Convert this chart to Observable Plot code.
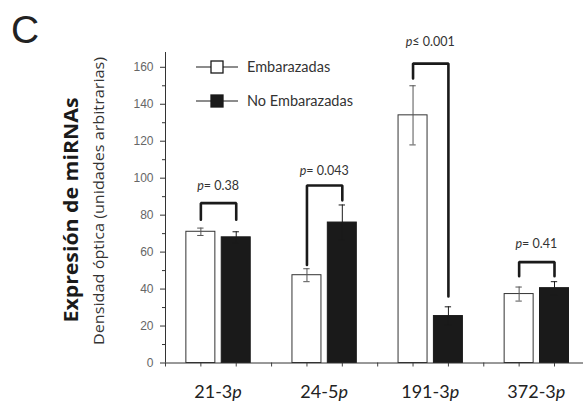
<!DOCTYPE html>
<html><head><meta charset="utf-8">
<script src="https://cdn.jsdelivr.net/npm/d3@7"></script>
<script src="https://cdn.jsdelivr.net/npm/@observablehq/plot@0.6"></script>
<style>body{margin:0;background:#fff} svg{display:block}</style>
</head><body><div id="chart"></div>
<script>
// ---- data ----
const categories = ["21-3", "24-5", "191-3", "372-3"];
const seriesNames = ["Embarazadas", "No Embarazadas"];
const embarazadas = [71, 47.5, 134, 37.3];
const embarazadasErr = [2, 3.5, 16, 3.8];
const noEmbarazadas = [68, 76, 25.4, 40.5];
const noEmbarazadasErr = [3, 9.5, 5, 3.5];
const pOps = ["=", "=", "≤", "="];
const pValues = ["0.38", "0.043", "0.001", "0.41"];
const pLabelY = [93.5, 101.5, 171.5, 62];
const bracketTop = [86.5, 96, 162, 54.6];
const bracketLeftEnd = [77.5, 53, 154, 47];
const bracketRightEnd = [77.5, 88, 36, 47];
const yTicks = [0, 20, 40, 60, 80, 100, 120, 140, 160];
const yMinorTicks = [10, 30, 50, 70, 90, 110, 130, 150];
const xTicks = [0, 1, 2, 3, 4, 5, 6, 7, 8, 9, 10, 11];

// ---- build rows ----
const half = 0.41, cap = 0.09;
const rows = categories.flatMap((c, i) => [
  {cat: c, s: 0, center: 3 * i + 1, value: embarazadas[i], err: embarazadasErr[i]},
  {cat: c, s: 1, center: 3 * i + 2, value: noEmbarazadas[i], err: noEmbarazadasErr[i]}
]);
const brackets = categories.flatMap((c, i) => [
  {cat: c, x: 3 * i + 1, y: bracketLeftEnd[i]},
  {cat: c, x: 3 * i + 1, y: bracketTop[i]},
  {cat: c, x: 3 * i + 2, y: bracketTop[i]},
  {cat: c, x: 3 * i + 2, y: bracketRightEnd[i]}
]);
const caps = rows.flatMap(d => [
  {...d, cy: d.value + d.err},
  {...d, cy: d.value - d.err}
]);

const plot = Plot.plot({
  width: 583, height: 408,
  marginLeft: 165, marginRight: 0, marginTop: 52, marginBottom: 45.5,
  x: {domain: [0, 11.82]},
  y: {domain: [0, 168]},
  style: {fontFamily: "'Liberation Sans', Arial, sans-serif", fontSize: "12px", background: "white", color: "#333"},
  marks: [
    Plot.axisY({ticks: yTicks, tickSize: 5, tickPadding: 7, label: null, color: "#333"}),
    Plot.axisY({ticks: yMinorTicks, tickSize: 3, tickFormat: () => "", label: null, color: "#333"}),
    Plot.axisX({ticks: xTicks, tickSize: 4, tickFormat: () => "", label: null, color: "#444"}),
    Plot.rectY(rows, {x1: d => d.center - half, x2: d => d.center + half, y: "value",
      fill: d => d.s ? "#1a1a1a" : "white", stroke: d => d.s ? "#1a1a1a" : "#333", strokeWidth: 1}),
    Plot.ruleX(rows, {x: "center", y1: d => d.value - d.err, y2: d => d.value + d.err,
      stroke: d => d.s ? "#1a1a1a" : "#555", strokeWidth: 1}),
    Plot.ruleY(caps, {y: "cy", x1: d => d.center - cap, x2: d => d.center + cap,
      stroke: d => d.s ? "#1a1a1a" : "#555", strokeWidth: 1}),
    Plot.line(brackets, {x: "x", y: "y", z: "cat", stroke: "#1a1a1a", strokeWidth: 2.6, strokeLinejoin: "miter"}),
    Plot.ruleX([0], {y1: 0, y2: 168, stroke: "#333"}),
    Plot.ruleY([0], {stroke: "#333"})
  ]
});

const svg = d3.select(plot);
svg.selectAll("[aria-label='y-axis tick label'] text").attr("fill", "#666");
const xs = plot.scale("x"), ys = plot.scale("y");

// category labels
categories.forEach((c, i) => {
  const t = svg.append("text")
    .attr("x", xs.apply(3 * i + 1.5)).attr("y", 398)
    .attr("text-anchor", "middle")
    .attr("font-family", "Lato, 'Open Sans', sans-serif").attr("font-size", 18).attr("fill", "#222");
  t.append("tspan").text(c);
  t.append("tspan").attr("font-style", "italic").text("p");
});

// p-value labels
categories.forEach((c, i) => {
  const t = svg.append("text")
    .attr("x", xs.apply(3 * i + 1.5)).attr("y", ys.apply(pLabelY[i]))
    .attr("text-anchor", "middle")
    .attr("font-family", "Lato, 'Open Sans', sans-serif").attr("font-size", 12.5).attr("fill", "#333");
  t.append("tspan").attr("font-style", "italic").text("p");
  t.append("tspan").text(pOps[i] + " " + pValues[i]);
});

// legend
seriesNames.forEach((name, k) => {
  const cy = 67 + k * 34;
  svg.append("line").attr("x1", 196).attr("x2", 238).attr("y1", cy).attr("y2", cy)
    .attr("stroke", "#1a1a1a").attr("stroke-width", 1.2);
  svg.append("rect").attr("x", 211).attr("y", cy - 6).attr("width", 12).attr("height", 12)
    .attr("fill", k ? "#1a1a1a" : "white").attr("stroke", "#1a1a1a").attr("stroke-width", 1.3);
  svg.append("text").attr("x", 247).attr("y", cy + 5).attr("text-anchor", "start")
    .attr("font-family", "Lato, 'Open Sans', sans-serif").attr("font-size", 14.5).attr("fill", "#333")
    .text(name);
});

// y titles
svg.append("text").attr("transform", "translate(78,210) rotate(-90)")
  .attr("text-anchor", "middle")
  .attr("font-family", "'Open Sans', sans-serif").attr("font-weight", "bold")
  .attr("font-size", 19).attr("fill", "#1a1a1a")
  .attr("textLength", 225).attr("lengthAdjust", "spacingAndGlyphs")
  .text("Expresión de miRNAs");
svg.append("text").attr("transform", "translate(104,201) rotate(-90)")
  .attr("text-anchor", "middle")
  .attr("font-family", "'Open Sans', sans-serif")
  .attr("font-size", 14.5).attr("fill", "#333")
  .attr("textLength", 288).attr("lengthAdjust", "spacingAndGlyphs")
  .text("Densidad óptica (unidades arbitrarias)");

// panel letter
svg.append("text").attr("x", 11).attr("y", 43).attr("text-anchor", "start")
  .attr("font-family", "'Liberation Sans', Arial, sans-serif").attr("font-size", 39).attr("fill", "#222")
  .text("C");

document.getElementById("chart").appendChild(plot);
</script>
</body></html>
